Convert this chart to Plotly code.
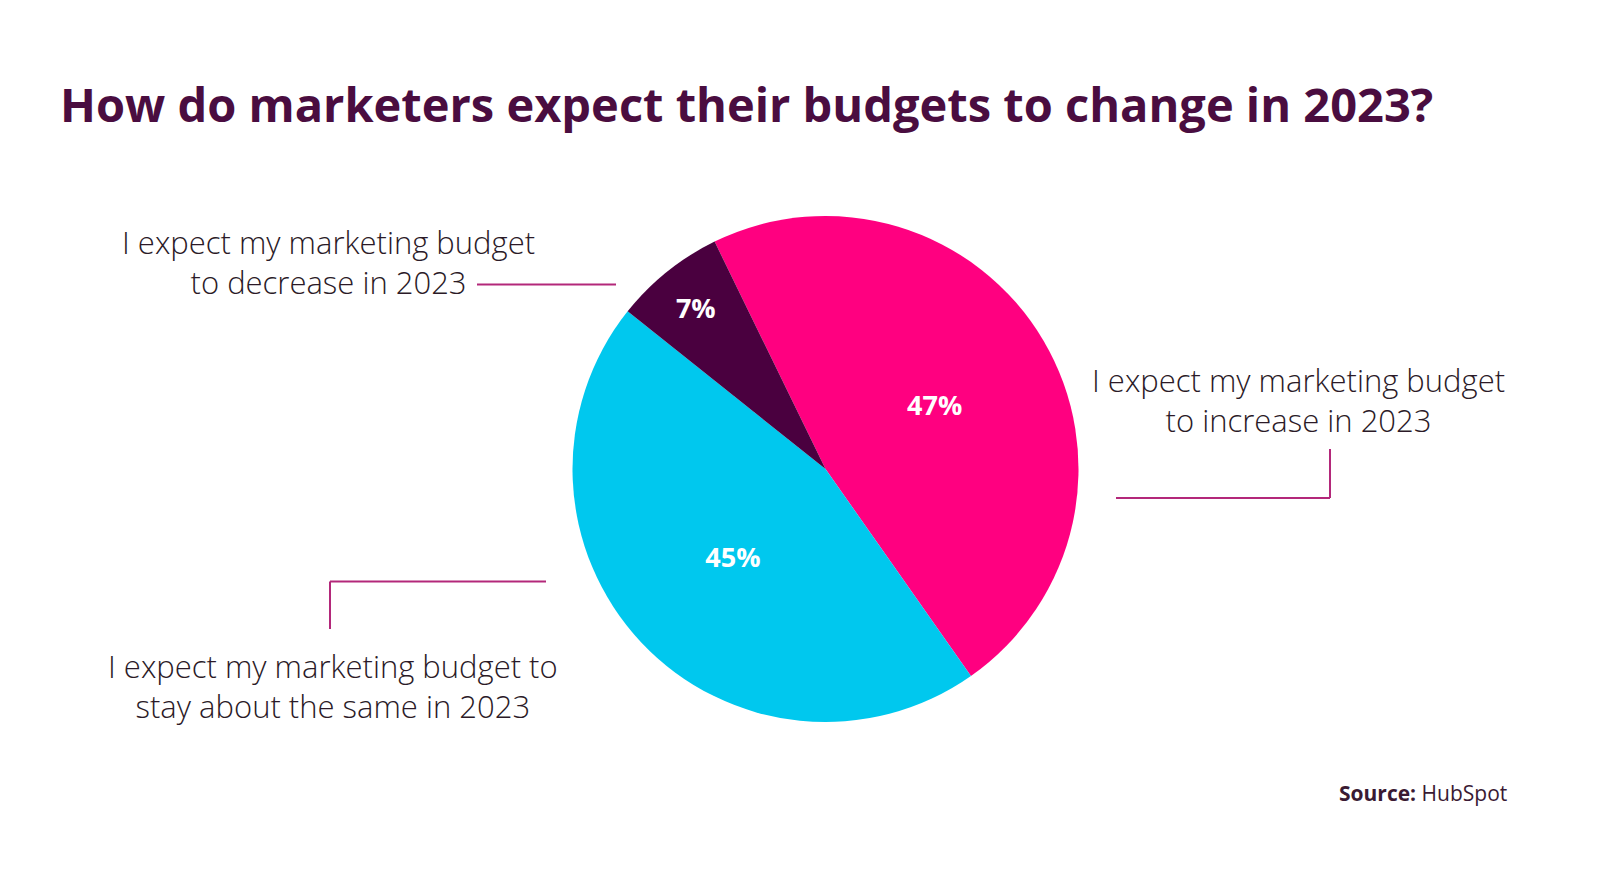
import plotly.graph_objects as go

# Data
categories = ["Increase", "Stay about the same", "Decrease"]
shares = [47, 45, 7]
slice_colors = ["#FF0080", "#00C8EE", "#4A003F"]

label_texts = [
    "I expect my marketing budget<br>to increase in 2023",
    "I expect my marketing budget to<br>stay about the same in 2023",
    "I expect my marketing budget<br>to decrease in 2023",
]

W, H = 1600, 880
TEXT_FONT = "Open Sans"
TEXT_COLOR = "#2B1A27"
LINE_COLOR = "#B3287A"


def px(x):
    return x / W


def py(y):
    return 1 - y / H


fig = go.Figure()

fig.add_trace(
    go.Pie(
        labels=categories,
        values=shares,
        text=[f"{v}%" for v in shares],
        textinfo="text",
        textposition="inside",
        insidetextorientation="horizontal",
        textfont=dict(family=TEXT_FONT, size=27, color="white", weight="bold"),
        marker=dict(colors=slice_colors, line=dict(width=0)),
        sort=False,
        direction="clockwise",
        rotation=-26,
        domain=dict(x=[px(564), px(1071)], y=[py(714), py(208)]),
        showlegend=False,
        hoverinfo="label+percent",
    )
)

# connector lines
shapes = [
    # decrease
    dict(x0=px(469), x1=px(608), y0=py(276.5), y1=py(276.5)),
    # increase
    dict(x0=px(1322), x1=px(1322), y0=py(441), y1=py(490)),
    dict(x0=px(1108), x1=px(1322), y0=py(490), y1=py(490)),
    # same
    dict(x0=px(322), x1=px(322), y0=py(573.5), y1=py(621)),
    dict(x0=px(322), x1=px(538), y0=py(573.5), y1=py(573.5)),
]
for s in shapes:
    s.update(type="line", xref="paper", yref="paper", line=dict(color=LINE_COLOR, width=2))

label_font = dict(family=TEXT_FONT, size=31, color=TEXT_COLOR, weight=300)
annotations = [
    dict(x=px(1290), y=py(392), text=label_texts[0]),
    dict(x=px(325), y=py(678), text=label_texts[1]),
    dict(x=px(320), y=py(254.5), text=label_texts[2]),
]
for a in annotations:
    a.update(xref="paper", yref="paper", showarrow=False, align="center",
             xanchor="center", yanchor="middle", font=label_font)

# title
annotations.append(
    dict(
        x=px(50), y=py(96), xref="paper", yref="paper", showarrow=False,
        xanchor="left", yanchor="middle",
        text="How do marketers expect their budgets to change in 2023?",
        font=dict(family=TEXT_FONT, size=47, color="#4A0D40", weight="bold"),
    )
)
# source
annotations.append(
    dict(
        x=px(1501), y=py(785), xref="paper", yref="paper", showarrow=False,
        xanchor="right", yanchor="middle",
        text="<b>Source:</b> HubSpot",
        font=dict(family=TEXT_FONT, size=21, color="#3A1A33"),
    )
)

fig.update_layout(
    width=W,
    height=H,
    margin=dict(l=0, r=0, t=0, b=0),
    paper_bgcolor="white",
    plot_bgcolor="white",
    shapes=shapes,
    annotations=annotations,
)

fig.write_html("out.html")
